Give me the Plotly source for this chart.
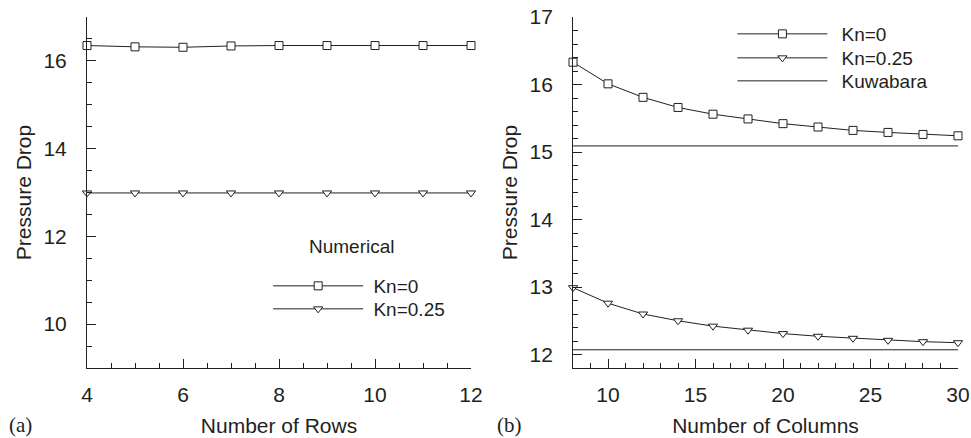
import plotly.graph_objects as go

# ---- data ----
rows = [4, 5, 6, 7, 8, 9, 10, 11, 12]
rows_kn0 = [16.35, 16.32, 16.31, 16.34, 16.35, 16.35, 16.35, 16.35, 16.35]
rows_kn025 = [12.99, 12.99, 12.99, 12.99, 12.99, 12.99, 12.99, 12.99, 12.99]

cols = [8, 10, 12, 14, 16, 18, 20, 22, 24, 26, 28, 30]
cols_kn0 = [16.33, 16.01, 15.81, 15.66, 15.56, 15.49, 15.42, 15.37, 15.32, 15.29, 15.26, 15.24]
cols_kn025 = [12.99, 12.76, 12.60, 12.50, 12.42, 12.36, 12.31, 12.27, 12.24, 12.21, 12.19, 12.175]
kuwabara_x = [8, 30]
kuwabara_kn0 = [15.09, 15.09]
kuwabara_kn025 = [12.07, 12.07]

INK = "#231f20"
FONT = "Liberation Sans, Arial, sans-serif"
SERIF = "Liberation Serif, Times New Roman, serif"
NB = "\u00a0"
TH = "\u2009"

fig = go.Figure()

def line_trace(x, y, name, symbol, xa, ya, legend, show=True):
    kw = dict(x=x, y=y, name=name, xaxis=xa, yaxis=ya, legend=legend,
              showlegend=show, cliponaxis=False,
              line=dict(color=INK, width=1))
    if symbol:
        kw["mode"] = "lines+markers"
        kw["marker"] = dict(symbol=symbol, size=8, color="white",
                            line=dict(color=INK, width=1))
    else:
        kw["mode"] = "lines"
    return go.Scatter(**kw)

# left panel
fig.add_trace(line_trace(rows, rows_kn0, NB + "Kn=0", "square", "x", "y", "legend"))
fig.add_trace(line_trace(rows, rows_kn025, NB + "Kn=0.25", "triangle-down", "x", "y", "legend5"))
# right panel
fig.add_trace(line_trace(cols, cols_kn0, NB + TH + "Kn=0", "square", "x2", "y2", "legend2"))
fig.add_trace(line_trace(cols, cols_kn025, NB + TH + "Kn=0.25", "triangle-down", "x2", "y2", "legend3"))
fig.add_trace(line_trace(kuwabara_x, kuwabara_kn0, NB + TH + "Kuwabara", None, "x2", "y2", "legend4"))
fig.add_trace(line_trace(kuwabara_x, kuwabara_kn025, "Kuwabara", None, "x2", "y2", "legend4", show=False))

def axis(rng, dtick, tick0, mdtick, domain, anchor, title, standoff, tstandoff):
    return dict(range=rng, dtick=dtick, tick0=tick0, domain=domain, anchor=anchor,
                automargin=False,
                showgrid=False, zeroline=False, showline=True, linecolor=INK, linewidth=1,
                ticks="inside", ticklen=9, tickwidth=1, tickcolor=INK,
                ticklabelstandoff=standoff,
                tickfont=dict(family=FONT, size=21, color=INK),
                title=dict(text=title, font=dict(family=FONT, size=21, color=INK), standoff=tstandoff),
                minor=dict(dtick=mdtick, ticks="inside", ticklen=5, tickwidth=1, tickcolor=INK,
                           showgrid=False),
                fixedrange=True)

def leg(x, ypx):
    return dict(x=x, y=(368 - ypx) / 351, xanchor="left", yanchor="middle",
                bgcolor="rgba(0,0,0,0)", itemwidth=90,
                font=dict(family=FONT, size=19, color=INK))

d1 = [0, 0.4409]
d2 = [0.558, 1]
fig.update_layout(
    width=971, height=438,
    margin=dict(l=87, r=13, t=17, b=70),
    paper_bgcolor="white", plot_bgcolor="white",
    font=dict(family=FONT, size=19, color=INK),
    xaxis=axis([4, 12], 2, 0, 0.5, d1, "y", "Number of Rows", 8, 13),
    yaxis=axis([9, 17.0001], 2, 0, 0.5, [0, 1], "x", "Pressure Drop", 15, 6),
    xaxis2=axis([8, 30], 5, 0, 1, d2, "y2", "Number of Columns", 8, 13),
    yaxis2=axis([11.8, 17.0001], 1, 0, 0.2, [0, 1], "x2", "Pressure Drop", 15, 6),
    legend=leg(0.208, 286),
    legend5=leg(0.208, 309),
    legend2=leg(0.741, 34),
    legend3=leg(0.741, 58),
    legend4=leg(0.741, 81),
    annotations=[
        dict(text="Numerical", xref="paper", yref="paper", x=(352 - 87) / 871, y=(368 - 246) / 351,
             xanchor="center", yanchor="middle", showarrow=False,
             font=dict(family=FONT, size=19, color=INK)),
        dict(text="(a)", xref="paper", yref="paper", x=-0.0769, y=-0.162,
             xanchor="center", yanchor="middle", showarrow=False,
             font=dict(family=SERIF, size=21, color=INK)),
        dict(text="(b)", xref="paper", yref="paper", x=0.4856, y=-0.162,
             xanchor="center", yanchor="middle", showarrow=False,
             font=dict(family=SERIF, size=21, color=INK)),
    ],
)

fig.write_html(
    "out.html",
    config={"displayModeBar": False},
    post_script="document.body.style.margin='0';document.body.style.overflow='hidden';",
)
